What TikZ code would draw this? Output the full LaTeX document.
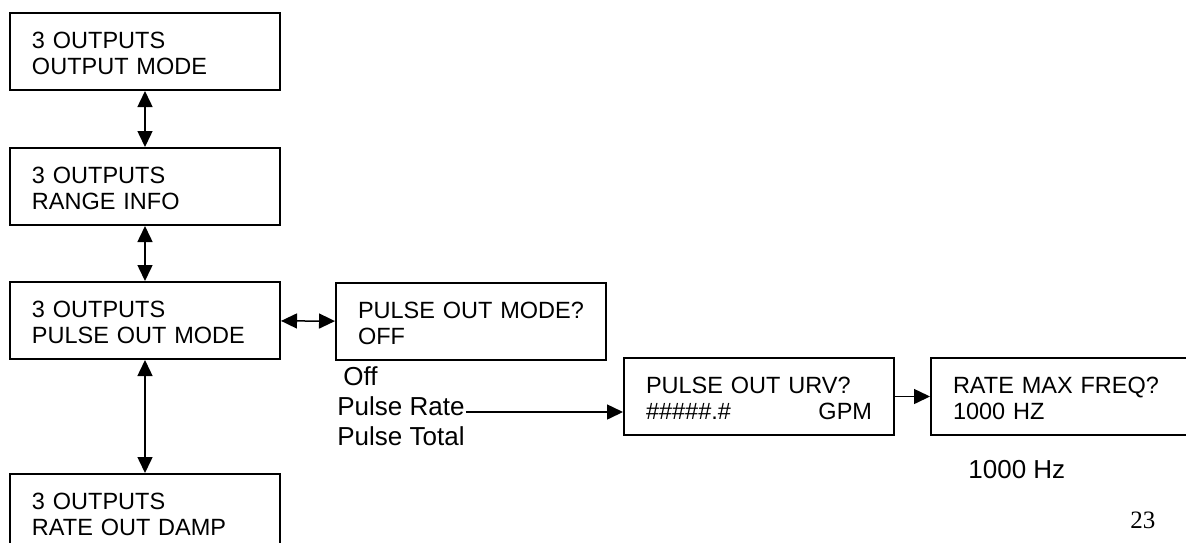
\documentclass[tikz,border=0pt]{standalone}
\usepackage{fontspec}
\setmainfont{Liberation Sans}
\newfontfamily\pagenumfont{Liberation Serif}
\usetikzlibrary{arrows.meta}

\tikzset{
  screen/.style={draw, line width=1pt, anchor=north west,
    inner xsep=11pt, inner ysep=0pt, text width=113pt, align=left,
    text height=17.5pt, text depth=21pt,
    font=\fontsize{11.75}{13}\selectfont},
  choice/.style={inner sep=0pt, anchor=base west,
    font=\fontsize{13}{15.6}\selectfont},
  both/.style={line width=0.75pt,
    {Triangle[length=8pt,width=7.5pt]}-{Triangle[length=8pt,width=7.5pt]}},
  next/.style={line width=0.75pt, -{Triangle[length=8pt,width=7.5pt]}},
}

\begin{document}
\begin{tikzpicture}[x=0.5pt, y=-0.5pt]
  \useasboundingbox (0,0) rectangle (1186,542);

  % main menu column
  \node[screen] (outmode)  at (9,12)  {3 OUTPUTS\\OUTPUT MODE};
  \node[screen] (rangeinf) at (9,147) {3 OUTPUTS\\RANGE INFO};
  \node[screen] (pulsemod) at (9,281) {3 OUTPUTS\\PULSE OUT MODE};
  \node[screen] (ratedamp) at (9,473) {3 OUTPUTS\\RATE OUT DAMP};

  \draw[both] (outmode) -- (rangeinf);
  \draw[both] (rangeinf) -- (pulsemod);
  \draw[both] (pulsemod) -- (ratedamp);

  % pulse output setup
  \node[screen] (modeq) at (335,282) {PULSE OUT MODE?\\OFF};
  \draw[both] (pulsemod) -- (modeq);

  \node[choice] (off)   at (343,385) {Off};
  \node[choice] (rate)  at (337,415) {Pulse Rate};
  \node[choice] (total) at (337,445) {Pulse Total};

  \node[screen] (urv)  at (623,357) {PULSE OUT URV?\\\#\#\#\#\#.\#\hfill GPM};
  \node[screen] (freq) at (930,357) {RATE MAX FREQ?\\1000 HZ};

  \coordinate (ratetail) at ([shift={(1,-3)}]rate.base east);
  \draw[next] (ratetail) -- (ratetail -| urv.west);
  \draw[next] (urv) -- (freq);

  \node[choice] (maxhz) at (968,478) {1000 Hz};

  % page number
  \node[inner sep=0pt, anchor=base west,
    font=\pagenumfont\fontsize{12.5}{15}\selectfont] (pagenum) at (1130,528) {23};
\end{tikzpicture}
\end{document}
